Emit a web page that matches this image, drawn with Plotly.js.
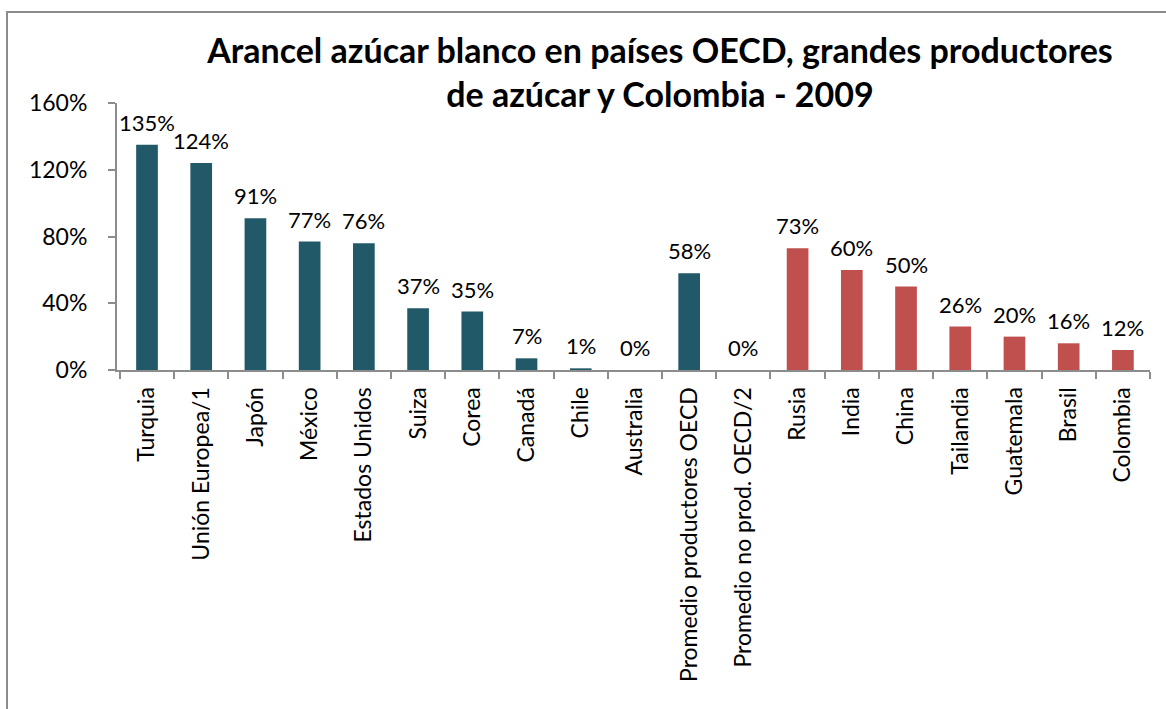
<!DOCTYPE html>
<html>
<head>
<meta charset="utf-8">
<script src="https://cdn.plot.ly/plotly-3.0.1.min.js"></script>
<style>
  html, body { margin: 0; padding: 0; background: #fff; }
  #wrap { position: relative; width: 1166px; height: 709px; overflow: hidden; }
  #chart { width: 1166px; height: 709px; }
  #frame { position: absolute; left: 6px; top: 11px; width: 1200px; height: 800px;
           border-left: 2px solid #8c8c8c; border-top: 2px solid #8c8c8c; pointer-events: none; }
</style>
</head>
<body>
<div id="wrap">
  <div id="chart"></div>
  <div id="frame"></div>
</div>
<script>
const categories = ["Turquia", "Unión Europea/1", "Japón", "México", "Estados Unidos", "Suiza", "Corea", "Canadá", "Chile", "Australia", "Promedio productores OECD", "Promedio no prod. OECD/2", "Rusia", "India", "China", "Tailandia", "Guatemala", "Brasil", "Colombia"];
const tariffs = [135, 124, 91, 77, 76, 37, 35, 7, 1, 0, 58, 0, 73, 60, 50, 26, 20, 16, 12];
const groups = ["OECD", "OECD", "OECD", "OECD", "OECD", "OECD", "OECD", "OECD", "OECD", "OECD", "OECD", "OECD", "Otros", "Otros", "Otros", "Otros", "Otros", "Otros", "Otros"];

const groupColors = { "OECD": "#215968", "Otros": "#C0504D" };
const font = "Lato, 'Open Sans', 'DejaVu Sans', sans-serif";

const trace = {
  type: "bar",
  x: categories,
  y: tariffs,
  marker: { color: groups.map(g => groupColors[g]) },
  cliponaxis: false,
  hoverinfo: "x+y"
};

const labels = categories.map((c, i) => ({
  x: c, y: tariffs[i], xref: "x", yref: "y",
  text: tariffs[i] + "%",
  showarrow: false,
  yanchor: "bottom",
  yshift: 7,
  font: { family: font, size: 22, color: "#000" }
}));

const layout = {
  width: 1166,
  height: 709,
  margin: { l: 117, r: 16, t: 103, b: 339 },
  paper_bgcolor: "#fff",
  plot_bgcolor: "#fff",
  showlegend: false,
  bargap: 0.6,
  font: { family: font, color: "#000" },
  annotations: labels,
  title: {
    text: "Arancel azúcar blanco en países OECD, grandes productores<br>de azúcar y Colombia - 2009",
    font: { family: font, size: 34, color: "#000", weight: "bold" },
    x: 0.566, xanchor: "center",
    y: 0.911, yanchor: "middle"
  },
  xaxis: {
    type: "category",
    tickangle: -90,
    tickfont: { family: font, size: 23, color: "#000" },
    showline: true, linecolor: "#8c8c8c", linewidth: 2,
    ticks: "outside", ticklen: 7, tickcolor: "#8c8c8c", tickwidth: 2,
    tickson: "boundaries",
    ticklabelstandoff: 6,
    showgrid: false,
    automargin: false
  },
  yaxis: {
    range: [0, 160],
    dtick: 40,
    ticksuffix: "%",
    tickfont: { family: font, size: 23, color: "#000" },
    showline: true, linecolor: "#8c8c8c", linewidth: 2,
    ticks: "outside", ticklen: 7, tickcolor: "#8c8c8c", tickwidth: 2,
    ticklabelstandoff: 16,
    showgrid: false,
    zeroline: false,
    automargin: false
  }
};

Plotly.newPlot("chart", [trace], layout, { displayModeBar: false, staticPlot: true });
</script>
</body>
</html>
